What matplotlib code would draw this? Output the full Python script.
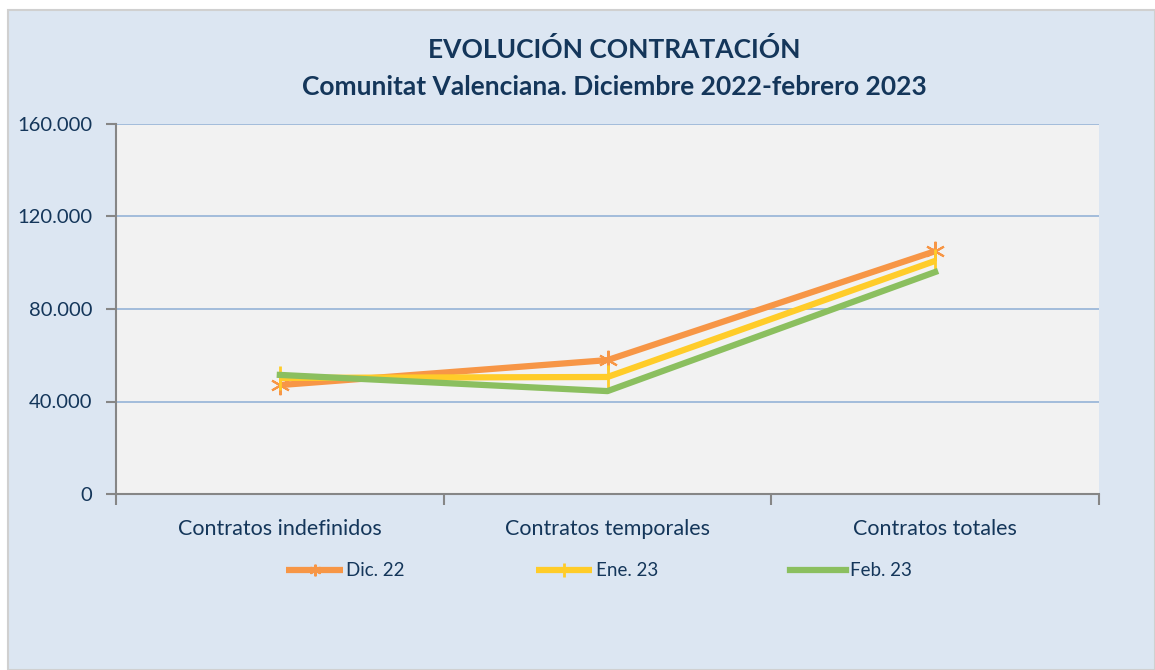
import matplotlib.pyplot as plt
import matplotlib.patches as patches

plt.rcParams['font.family'] = ['Lato', 'DejaVu Sans']

# data
categories = ['Contratos indefinidos', 'Contratos temporales', 'Contratos totales']
dic_22 = [47100, 57900, 105000]
ene_23 = [50200, 50600, 100800]
feb_23 = [51500, 44500, 96000]
y_ticks = [0, 40000, 80000, 120000, 160000]
y_tick_labels = ['0', '40.000', '80.000', '120.000', '160.000']

text_color = '#14365a'
W, H = 1155, 670

fig = plt.figure(figsize=(W / 100, H / 100), dpi=100, facecolor='white')

# outer chart area
bg = patches.Rectangle((8 / W, 0), 1 - 8 / W, 1 - 10 / H, transform=fig.transFigure,
                       facecolor='#dce6f2', edgecolor='#d0d0d0', linewidth=1.5, zorder=-5)
fig.patches.append(bg)

ax = fig.add_axes([116 / W, 1 - 494 / H, (1099 - 116) / W, (494 - 124) / H])
ax.set_zorder(2)
ax.set_facecolor('#f2f2f2')

x = list(range(len(categories)))
ax.plot(x, dic_22, color='#f79646', linewidth=4.5, marker=(6, 2, 0), markersize=14,
        markeredgewidth=1.5, solid_capstyle='butt', label='Dic. 22', zorder=3)
ax.plot(x, ene_23, color='#ffcc29', linewidth=4.5, marker='|', markersize=17,
        markeredgewidth=2, solid_capstyle='butt', label='Ene. 23', zorder=4)
ax.plot(x, feb_23, color='#8bbf5f', linewidth=4.5,
        solid_capstyle='projecting', label='Feb. 23', zorder=5)

ax.set_xlim(-0.5, 2.5)
ax.set_ylim(0, 160000)
ax.set_yticks(y_ticks)
ax.set_yticklabels(y_tick_labels)
ax.yaxis.grid(True, color='#95b3d7', linewidth=1.2)
ax.set_axisbelow(True)

ax.set_xticks([-0.5, 0.5, 1.5, 2.5])
ax.set_xticklabels([])
ax.set_xticks(x, minor=True)
ax.set_xticklabels(categories, minor=True)
ax.tick_params(axis='x', which='major', length=8, width=1.5, color='#868686', direction='out')
ax.tick_params(axis='x', which='minor', length=0, pad=18, labelsize=15.5, labelcolor=text_color)
ax.tick_params(axis='y', length=7, width=1.5, color='#868686', direction='out',
               labelsize=14.5, labelcolor=text_color, pad=10)

for side in ['top', 'right']:
    ax.spines[side].set_visible(False)
for side in ['left', 'bottom']:
    ax.spines[side].set_color('#868686')
    ax.spines[side].set_linewidth(1.5)

fig.text(614 / W, 1 - 50 / H, 'EVOLUCIÓN CONTRATACIÓN', ha='center', va='center',
         fontsize=19, fontweight='bold', color=text_color)
fig.text(614 / W, 1 - 87 / H, 'Comunitat Valenciana. Diciembre 2022-febrero 2023',
         ha='center', va='center', fontsize=19, fontweight='bold', color=text_color)

leg = fig.legend(loc='center', bbox_to_anchor=(599 / W, 1 - 571 / H), ncol=3,
                 frameon=False, fontsize=13.5, handlelength=3, handletextpad=0.2,
                 columnspacing=7, labelcolor=text_color, markerscale=0.6)

fig.savefig('out.png', dpi=100, facecolor=fig.get_facecolor())
